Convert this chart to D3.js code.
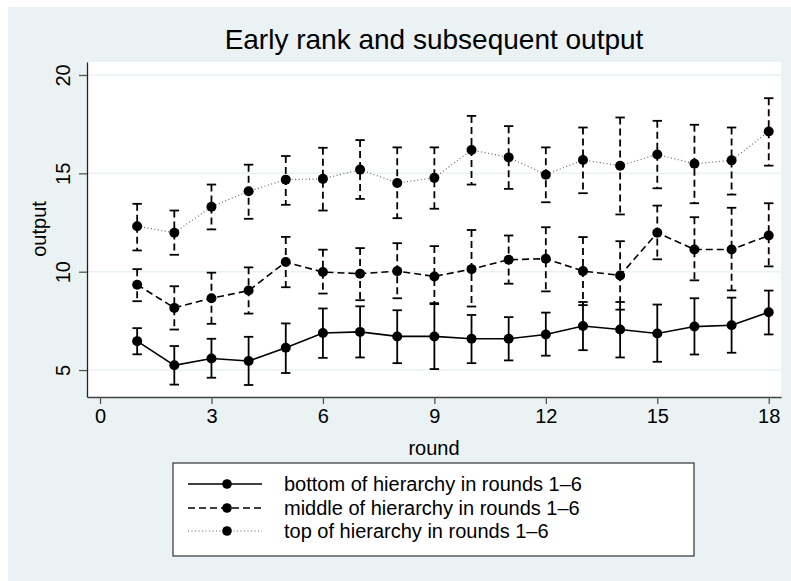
<!DOCTYPE html>
<html>
<head>
<meta charset="utf-8">
<script src="https://cdn.jsdelivr.net/npm/d3@7"></script>
<style>
body{margin:0;background:#fff;}
svg{display:block;font-family:"Liberation Sans",Arial,sans-serif;}
</style>
</head>
<body>
<svg id="chart" width="791" height="581"></svg>
<script>
const rounds=[1,2,3,4,5,6,7,8,9,10,11,12,13,14,15,16,17,18];

const bottomMean=[6.47,5.24,5.59,5.46,6.13,6.88,6.94,6.71,6.71,6.59,6.59,6.81,7.24,7.06,6.86,7.21,7.28,7.94];
const bottomHi=[7.13,6.22,6.59,6.69,7.37,8.13,8.24,8.04,8.35,7.80,7.69,7.92,8.46,8.46,8.33,8.65,8.68,9.04];
const bottomLo=[5.80,4.26,4.61,4.24,4.85,5.62,5.64,5.35,5.05,5.35,5.49,5.73,6.01,5.64,5.42,5.79,5.88,6.81];

const middleMean=[9.34,8.16,8.65,9.04,10.49,9.98,9.90,10.03,9.76,10.13,10.61,10.66,10.03,9.81,11.98,11.13,11.13,11.84];
const middleHi=[10.13,9.26,9.95,10.22,11.77,11.12,11.20,11.45,11.30,12.12,11.84,12.26,11.76,11.55,13.36,12.77,13.25,13.48];
const middleLo=[8.50,7.06,7.35,7.87,9.21,8.89,8.55,8.65,8.40,8.23,9.39,9.00,8.30,8.07,10.63,9.56,9.05,10.27];

const topMean=[12.31,11.98,13.30,14.09,14.68,14.72,15.19,14.51,14.77,16.19,15.81,14.93,15.68,15.39,15.96,15.49,15.66,17.13];
const topHi=[13.45,13.11,14.43,15.44,15.88,16.30,16.69,16.32,16.32,17.92,17.40,16.32,17.33,17.84,17.67,17.47,17.33,18.82];
const topLo=[11.08,10.86,12.15,12.69,13.40,13.11,13.70,12.72,13.20,14.43,14.21,13.53,13.99,12.91,14.24,13.48,13.92,15.39];

const yTicks=[5,10,15,20];
const xTicks=[0,3,6,9,12,15,18];
const seriesNames=["bottom of hierarchy in rounds 1\u20136","middle of hierarchy in rounds 1\u20136","top of hierarchy in rounds 1\u20136"];

const series=[
    {name:seriesNames[0],mean:bottomMean,hi:bottomHi,lo:bottomLo,line:{stroke:"#000",width:1.6,dash:null},bar:null},
    {name:seriesNames[1],mean:middleMean,hi:middleHi,lo:middleLo,line:{stroke:"#000",width:1.6,dash:"7,4"},bar:"7,4"},
    {name:seriesNames[2],mean:topMean,hi:topHi,lo:topLo,line:{stroke:"#666",width:1.2,dash:"1,2.5"},bar:"7,4"}
];

const svg=d3.select("#chart");
const bg="#eaf2f3";
svg.append("rect").attr("x",8).attr("y",7).attr("width",783).attr("height",574).attr("fill",bg);

const plot={left:87,right:781,top:62,bottom:397};
const x=d3.scaleLinear().domain([-0.35,18.33]).range([plot.left,plot.right]);
const y=d3.scaleLinear().domain([3.63,20.66]).range([plot.bottom,plot.top]);

svg.append("rect")
    .attr("x",plot.left).attr("y",plot.top)
    .attr("width",plot.right-plot.left).attr("height",plot.bottom-plot.top)
    .attr("fill","#fff");

// grid
svg.append("g").selectAll("line")
    .data(yTicks)
    .enter().append("line")
    .attr("x1",plot.left).attr("x2",plot.right)
    .attr("y1",d=>y(d)).attr("y2",d=>y(d))
    .attr("stroke",bg).attr("stroke-width",1.5);

// axes
const yAxis=svg.append("g")
    .attr("transform",`translate(${plot.left},0)`)
    .call(d3.axisLeft(y).tickValues(yTicks).tickSize(8).tickSizeOuter(0).tickPadding(4));
yAxis.select(".domain").attr("stroke","#222").attr("stroke-width",1.3);
yAxis.selectAll(".tick line").attr("stroke","#555").attr("stroke-width",1.3);
yAxis.selectAll(".tick text")
    .attr("font-size",20).attr("fill","#000")
    .attr("text-anchor","middle")
    .attr("transform","rotate(-90)")
    .attr("x",0)
    .attr("y",-17)
    .attr("dy","0");

const xAxis=svg.append("g")
    .attr("transform",`translate(0,${plot.bottom})`)
    .call(d3.axisBottom(x).tickValues(xTicks).tickSize(7).tickSizeOuter(0).tickPadding(4));
xAxis.select(".domain").attr("stroke","#444").attr("stroke-width",1.3);
xAxis.selectAll(".tick line").attr("stroke","#555").attr("stroke-width",1.3);
xAxis.selectAll(".tick text").attr("font-size",20).attr("fill","#000").attr("dy","0").attr("y",26);

// axis titles
svg.append("text").attr("x",434).attr("y",455).attr("text-anchor","middle")
    .attr("font-size",20).text("round");
svg.append("text").attr("transform","translate(46,229) rotate(-90)").attr("text-anchor","middle")
    .attr("font-size",20).text("output");

// title
svg.append("text").attr("x",434).attr("y",49).attr("text-anchor","middle")
    .attr("font-size",28).text("Early rank and subsequent output");

// series
const capW=4.7;
series.forEach(s=>{
    const pts=rounds.map((r,i)=>({r:r,m:s.mean[i],hi:s.hi[i],lo:s.lo[i]}));
    const g=svg.append("g");
    // error bars
    g.selectAll(".bar").data(pts).enter().append("line")
        .attr("x1",d=>x(d.r)).attr("x2",d=>x(d.r))
        .attr("y1",d=>y(d.hi)).attr("y2",d=>y(d.lo))
        .attr("stroke","#000").attr("stroke-width",1.8)
        .attr("stroke-dasharray",s.bar);
    g.selectAll(".caphi").data(pts).enter().append("line")
        .attr("x1",d=>x(d.r)-capW).attr("x2",d=>x(d.r)+capW)
        .attr("y1",d=>y(d.hi)).attr("y2",d=>y(d.hi))
        .attr("stroke","#000").attr("stroke-width",1.8);
    g.selectAll(".caplo").data(pts).enter().append("line")
        .attr("x1",d=>x(d.r)-capW).attr("x2",d=>x(d.r)+capW)
        .attr("y1",d=>y(d.lo)).attr("y2",d=>y(d.lo))
        .attr("stroke","#000").attr("stroke-width",1.8);
    // connecting line
    g.append("path").datum(pts)
        .attr("fill","none")
        .attr("stroke",s.line.stroke).attr("stroke-width",s.line.width)
        .attr("stroke-dasharray",s.line.dash)
        .attr("d",d3.line().x(d=>x(d.r)).y(d=>y(d.m)));
    g.selectAll("circle").data(pts).enter().append("circle")
        .attr("cx",d=>x(d.r)).attr("cy",d=>y(d.m)).attr("r",5).attr("fill","#000");
});

// legend
const leg=svg.append("g");
leg.append("rect").attr("x",173).attr("y",463).attr("width",521).attr("height",93)
    .attr("fill","#fff").attr("stroke","#333").attr("stroke-width",1.2);
const rowY=[484,508,531];
series.forEach((s,i)=>{
    leg.append("line").attr("x1",188).attr("x2",262).attr("y1",rowY[i]).attr("y2",rowY[i])
        .attr("stroke",s.line.stroke).attr("stroke-width",s.line.width)
        .attr("stroke-dasharray",s.line.dash);
    leg.append("circle").attr("cx",227).attr("cy",rowY[i]).attr("r",4.8).attr("fill","#000");
    leg.append("text").attr("x",284).attr("y",rowY[i]+7).attr("font-size",20).text(s.name);
});
</script>
</body>
</html>
